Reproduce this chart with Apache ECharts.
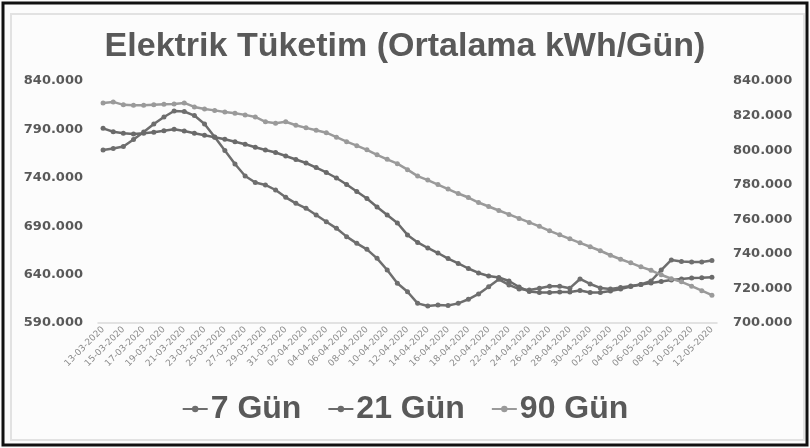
<!DOCTYPE html>
<html>
<head>
<meta charset="utf-8">
<script src="https://cdn.jsdelivr.net/npm/echarts@6/dist/echarts.min.js"></script>
<style>
  html, body { margin: 0; padding: 0; background: #ffffff; }
  #chart { width: 810px; height: 448px; }
</style>
</head>
<body>
<div id="chart"></div>
<script>
// Tarihler (13-03-2020 .. 12-05-2020)
const tarihler = [
  '13-03-2020','14-03-2020','15-03-2020','16-03-2020','17-03-2020','18-03-2020','19-03-2020','20-03-2020',
  '21-03-2020','22-03-2020','23-03-2020','24-03-2020','25-03-2020','26-03-2020','27-03-2020','28-03-2020',
  '29-03-2020','30-03-2020','31-03-2020','01-04-2020','02-04-2020','03-04-2020','04-04-2020','05-04-2020',
  '06-04-2020','07-04-2020','08-04-2020','09-04-2020','10-04-2020','11-04-2020','12-04-2020','13-04-2020',
  '14-04-2020','15-04-2020','16-04-2020','17-04-2020','18-04-2020','19-04-2020','20-04-2020','21-04-2020',
  '22-04-2020','23-04-2020','24-04-2020','25-04-2020','26-04-2020','27-04-2020','28-04-2020','29-04-2020',
  '30-04-2020','01-05-2020','02-05-2020','03-05-2020','04-05-2020','05-05-2020','06-05-2020','07-05-2020',
  '08-05-2020','09-05-2020','10-05-2020','11-05-2020','12-05-2020'
];

// 7 günlük ortalama (sol eksen)
const gun7 = [
  768700, 770300, 772300, 779600, 787300, 795600, 802800, 809000, 808500, 804300, 795600, 782100, 768200, 754200, 741900, 735100,
  732600, 727400, 719800, 713600, 708500, 701600, 694600, 687800, 679200, 672300, 666100, 656800, 644700, 631000, 622300,
  610300, 607600, 608600, 608000, 610300, 614500, 620000, 627500, 635100, 629300, 625000, 624100, 626000, 628000, 628000, 626000,
  635500, 630300, 626200, 625100, 626700, 628200, 629800, 633400, 644700, 655100, 653500, 653000, 653000, 654600
];

// 21 günlük ortalama (sol eksen)
const gun21 = [
  791100, 787600, 786000, 785200, 786000, 787000, 788600, 790100, 788300, 786000, 783900, 781800, 779800, 777300, 774600, 771500,
  768700, 766100, 762500, 758900, 755300, 750600, 745500, 739800, 733100, 725800, 718600, 709800, 701600, 693300, 681000,
  673200, 667500, 662300, 656600, 651500, 646300, 641700, 638600, 637000, 633400, 627200, 622500, 621500, 621500, 622000, 622000,
  623600, 621500, 621500, 623100, 625100, 627700, 629800, 631300, 632900, 634400, 635500, 636500, 636800, 637200
];

// 90 günlük ortalama (sağ eksen)
const gun90 = [
  827300, 827900, 826200, 825900, 825900, 826200, 826500, 826700, 827300, 825000, 823800, 823000, 822100, 821300, 820400, 819200,
  816400, 815600, 816400, 814400, 812900, 811500, 810100, 807500, 804900, 802600, 800200, 797300, 794700, 792200, 788700,
  785000, 782700, 780100, 777500, 774900, 772600, 769700, 767400, 765100, 762800, 760500, 758200, 755900, 753300, 751000, 748700,
  746400, 744100, 741800, 739200, 736900, 734800, 732500, 730500, 727900, 725600, 723800, 721300, 718700, 716100
];

const seriesAdlari = ['7 Gün', '21 Gün', '90 Gün'];

const chart = echarts.init(document.getElementById('chart'), null, { renderer: 'canvas' });

// 840.000 formatı
function binlik(v) {
  return (v / 1000).toFixed(3);
}

const eksenEtiketi = {
  fontFamily: 'DejaVu Sans',
  fontWeight: 'bold',
  fontSize: 13,
  color: '#595959',
  formatter: binlik
};

function cizgi(ad, veri, renk, eksen) {
  return {
    name: ad,
    type: 'line',
    yAxisIndex: eksen,
    data: veri,
    symbol: 'circle',
    symbolSize: 5,
    showSymbol: true,
    itemStyle: { color: renk },
    lineStyle: { color: renk, width: 2.5 },
    animation: false
  };
}

const option = {
  backgroundColor: '#fcfcfc',
  title: {
    text: 'Elektrik Tüketim (Ortalama kWh/Gün)',
    left: 'center',
    top: 25,
    textStyle: {
      fontFamily: 'Liberation Sans',
      fontWeight: 'bold',
      fontSize: 34,
      color: '#595959'
    }
  },
  legend: {
    data: seriesAdlari,
    bottom: 18,
    left: 'center',
    itemWidth: 25,
    itemHeight: 8,
    itemGap: 26,
    textStyle: {
      fontFamily: 'Liberation Sans',
      fontWeight: 'bold',
      fontSize: 32,
      color: '#595959',
      padding: [0, 0, 0, -2]
    }
  },
  grid: {
    left: 98,
    top: 81,
    width: 619,
    height: 242
  },
  xAxis: {
    type: 'category',
    data: tarihler,
    boundaryGap: true,
    axisLine: { lineStyle: { color: '#d9d9d9', width: 1.5 } },
    axisTick: { show: false },
    axisLabel: {
      interval: 1,
      rotate: 45,
      fontSize: 9,
      fontFamily: 'DejaVu Sans',
      color: '#8c8c8c',
      margin: 5
    }
  },
  yAxis: [
    {
      type: 'value',
      min: 590000,
      max: 840000,
      interval: 50000,
      axisLine: { show: false },
      axisTick: { show: false },
      splitLine: { show: false },
      axisLabel: Object.assign({ margin: 15 }, eksenEtiketi)
    },
    {
      type: 'value',
      min: 700000,
      max: 840000,
      interval: 20000,
      position: 'right',
      axisLine: { show: false },
      axisTick: { show: false },
      splitLine: { show: false },
      axisLabel: Object.assign({ margin: 16 }, eksenEtiketi)
    }
  ],
  graphic: [
    {
      type: 'rect',
      shape: { x: 3, y: 3, width: 804, height: 442 },
      style: { fill: 'none', stroke: '#111111', lineWidth: 3 },
      silent: true
    },
    {
      type: 'rect',
      shape: { x: 11, y: 14, width: 793, height: 426 },
      style: { fill: 'none', stroke: '#e2e2e2', lineWidth: 2 },
      silent: true
    }
  ],
  series: [
    cizgi(seriesAdlari[0], gun7, '#6e6e6e', 0),
    cizgi(seriesAdlari[1], gun21, '#6a6a6a', 0),
    cizgi(seriesAdlari[2], gun90, '#9a9a9a', 1)
  ]
};

chart.setOption(option);
</script>
</body>
</html>
